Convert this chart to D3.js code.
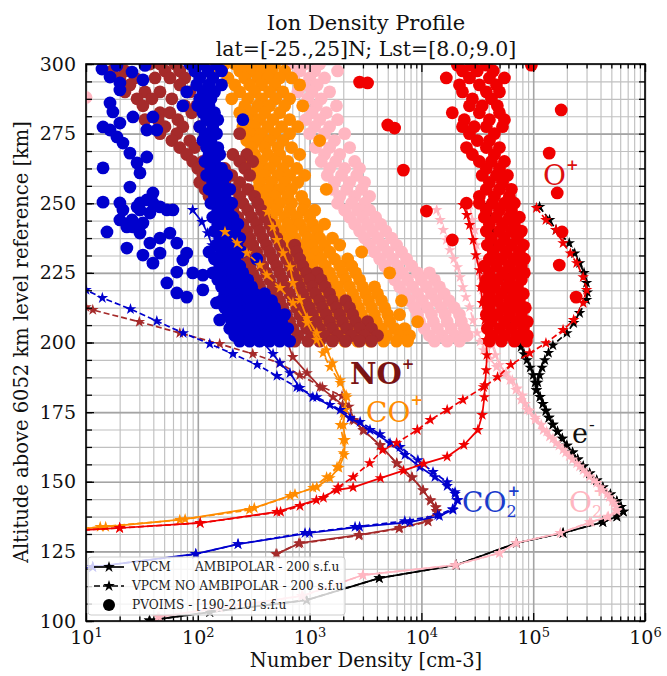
<!DOCTYPE html>
<html><head><meta charset="utf-8">
<script src="https://cdn.jsdelivr.net/npm/d3@7"></script>
<style>body{margin:0;background:#fff}svg text{font-family:'DejaVu Serif',serif}</style>
</head><body><svg id="c" width="667" height="676"></svg>
<script>
// ---------- axis / tick data ----------
const xMajorTicks = [10, 100, 1000, 10000, 100000, 1000000];
const yMajorTicks = [100, 125, 150, 175, 200, 225, 250, 275, 300];
const titleLines = ["Ion Density Profile", "lat=[-25.,25]N; Lst=[8.0;9.0]"];
const xLabel = "Number Density [cm-3]";
const yLabel = "Altitude above 6052 km level reference [km]";
const legendLabels = ["VPCM", "AMBIPOLAR - 200 s.f.u", "VPCM NO AMBIPOLAR - 200 s.f.u", "PVOIMS - [190-210] s.f.u"];

// ---------- VPCM model profiles: [altitude km, density cm-3] ----------
const co2Amb = [[247.6,90],[243.3,109],[239.3,122],[235,134],[230.7,149],[226.7,168],[222.4,194],[217.8,224],[212.7,275],[207,339],[200,383],[195.9,471],[192.6,543],[189,668],[183.7,820],[180.4,1070],[177.6,1520],[172.9,2300],[168.6,3470],[163.9,5240],[159.6,7130],[155.3,9700],[151.7,13200],[148.5,17000],[145.6,20000],[143.4,21200],[139.9,19200],[137.7,14500],[135.5,7900],[133.8,2800],[131.6,1000],[127.6,229],[124.1,96],[119.4,11.5],[118,7]];
const co2NoAmb = [[224,7],[218.9,10],[216,14],[212,25],[207.7,43],[203.4,74],[199.5,128],[195.9,206],[192,340],[188,510],[184,770],[180.4,1160],[175.8,1880],[171.5,2830],[167.1,4260],[162.5,6430],[157.8,9300],[153.5,12700],[149.9,17000],[146.3,20000],[143.4,20800],[140.2,19000],[138,14000],[135.9,7100],[133.8,2550],[131.6,910],[127.6,229],[124,96],[119.4,11.5],[118,7]];
const noAmb = [[248.3,206],[242.2,238],[235,275],[227.8,310],[221.4,360],[217,380],[212.7,425],[208,510],[200.9,622],[194.8,708],[189,950],[184,1240],[180.4,1620],[177.6,1970],[172.2,2430],[168.6,3000],[163.2,4260],[156.7,6000],[151.7,8200],[147,10300],[143.4,12000],[140.9,13400],[139.5,13600],[135.9,11400],[133.4,6400],[130.9,2800],[128,820],[124.1,510]];
const noNoAmb = [[216,6],[212.7,10],[211.7,11.5],[207.4,30],[203.4,69],[199.5,157],[195.9,310],[192.6,540],[188.3,815],[184,1300],[180.8,1950],[177,2250],[172,2500],[168.3,3050],[163,4300],[156.5,6050],[151.5,8300],[146.8,10400],[143.2,12100],[140.7,13500],[139.3,13700],[135.7,11500],[133.2,6300],[130.7,2750],[127.8,800],[124,500]];
const coAmb = [[246.9,420],[241.5,470],[236.8,510],[232.1,580],[227.1,670],[221.4,710],[215.3,820],[208.8,950],[203.4,1160],[197.3,1420],[192.6,1610],[186.5,1880],[181.1,2120],[175.8,2080],[170.4,2000],[165,2080],[159.6,2040],[155,1830],[151.3,1520],[148.1,1160],[145.6,740],[140.6,320],[136.6,77],[133.8,15],[133,8]];
const coNoAmb = [[239.7,175],[235.7,225],[232.1,275],[227.8,360],[224.2,415],[219.6,545],[214.2,710],[207,950],[200.9,1160],[196.2,1320],[191.2,1520],[185.5,1880],[180.4,2160],[174.7,1990],[170.4,1880],[165,2000],[160.3,2000],[155.3,1760],[151.7,1420],[147.8,1070],[144.9,670],[139.9,290],[136.3,69],[133.8,13.4],[133,8]];
const oAmb = [[249.4,23500],[245.8,25500],[242.2,27000],[236.8,29000],[231.4,30700],[226,33000],[219.9,34000],[214.2,35000],[208.1,37000],[200.9,38000],[195.5,38500],[190.1,38000],[184.7,37000],[180.4,36600],[174,35000],[168.6,32000],[163.2,24000],[159,17000],[156.5,10500],[154,6900],[151.3,4300],[148,2450],[147,1750],[143.4,1150],[139.2,510],[135.2,105],[133.4,20],[132.5,8]];
const oNoAmb = [[248.3,107000],[244,130000],[240.4,160000],[235.7,185000],[232,215000],[228.5,245000],[223.5,280000],[218.9,300000],[214.2,280000],[208.1,230000],[204.5,185000],[199.8,130000],[196.2,93000],[192,63000],[187.6,48000],[184,36000],[179.4,23500],[175.8,17000],[172.2,12000],[168.6,9200],[163.9,6000],[161.4,4500],[156.7,3450],[151.7,2450],[148,1800],[144.2,1330],[141.3,820],[139.2,550],[135.2,105],[133.4,20],[132.5,8]];
const o2Amb = [[249.4,27000],[244,28500],[240.4,30000],[235,31000],[229.6,32000],[224,33500],[218.9,35000],[213.5,36500],[208.1,38500],[203.5,40500],[199,43000],[195.5,46000],[192,50000],[189,57000],[186.5,65000],[183.5,72000],[181,80000],[178,85000],[175.5,93000],[173,105000],[170.5,118000],[168,132000],[165.5,150000],[163,170000],[160.5,195000],[158,225000],[155.5,260000],[153,300000],[150.5,350000],[148,400000],[145.5,460000],[143,510000],[141,550000],[139.5,560000],[137.5,470000],[135.5,330000],[131.6,175000],[128,70000],[124.4,50000],[120.1,20000],[116.5,3000],[109,850],[104.7,155],[101.5,44]];
const o2NoAmb = [[247.6,13700],[244,14700],[240.4,15700],[236.8,16700],[233.2,18000],[230,19500],[227.1,21000],[223.5,22200],[219.9,23500],[216.3,25000],[212.7,27000],[208,29000],[203.4,31500],[200.3,33500],[197.3,36000],[194.2,41000],[191.2,47000],[188.8,54000],[186.5,62000],[183,70000],[179.4,78000],[175.8,88000],[172.2,104000],[168.6,123000],[166.2,140000],[163.9,160000],[161.5,185000],[159.1,210000],[156.6,245000],[154.2,280000],[151.9,320000],[149.6,370000],[147,420000],[144.5,480000],[142.2,530000],[139.9,560000],[137.3,460000],[135.5,320000],[131.6,175000],[128,71000],[124.4,50000],[120.1,20500],[116.5,3000],[109,870],[104.7,157],[101.5,45]];
const eShared = [[180.5,115000],[178,122000],[175.5,130000],[173,138000],[170.5,150000],[168,165000],[165.5,182000],[163,200000],[160.5,225000],[158,250000],[155.5,280000],[153,320000],[150.5,370000],[148,420000],[145.5,490000],[143,560000],[141,610000],[139.3,640000],[137.5,560000],[135.5,420000],[131.6,185000],[128,71000],[120.1,20500],[115.4,4200],[107.5,940],[103.2,128],[100.2,37]];
const eAmbTop = [[249.4,39000],[245.8,41000],[240.4,43000],[235,46000],[229.6,50000],[224.2,54000],[218.9,57000],[213.5,60000],[208.1,66000],[202.7,71000],[198.4,78000],[195.8,83000],[193.7,88000],[191,94000],[188.3,100000],[185.6,104000],[182.9,107000]];
const eNoAmbTop = [[248.7,114000],[244,140000],[240.4,160000],[235.7,210000],[232,235000],[228.5,260000],[225,285000],[221.4,300000],[218,305000],[215.3,300000],[210.6,260000],[207,230000],[203.4,200000],[199,150000],[196.3,137000],[193.7,127000],[191,120000],[188.3,114000],[185.6,110000],[182.9,107000]];

// ---------- PVOIMS observations: [altitude km, [densities cm-3]] ----------
const obsO2 = [[300,[663,903,1230]],[297.5,[815,1110,1780]],[295,[708,1000,1360]],[292.5,[903,1170]],[290,[784,1050,1510]],[288,[10]],[287.5,[963,1270]],[285,[869,1150,1740]],[282.5,[1050,1410]],[280,[922,1230,1780]],[277.5,[1110,1510]],[275,[1000,1360,2060]],[272.5,[1230,1670]],[270,[1130,1510,2280]],[267.5,[1360,1860]],[265,[1270,1710,2530]],[262.5,[1510,2060,2800]],[260,[1440,1930,2640]],[257.5,[1670,2280,3100]],[255,[1600,2150,2920]],[252.5,[1860,2530,3440]],[250,[1780,2380,3100]],[247.5,[2060,2690,3440]],[245,[2280,2980,3890]],[242.5,[2530,3300,4310]],[240,[2800,3650,4790]],[237.5,[3100,4050,5410]],[235,[3440,4500,5990]],[232.5,[3810,4990,6640]],[230,[4230,5520,7360]],[227.5,[4690,6120,8170]],[225,[5200,6780,9240,11800]],[222.5,[5760,7520,10000,13100]],[220,[6380,8340,11100,14500]],[217.5,[7080,9240,12300,16000]],[215,[7840,10200,13600,17700]],[212.5,[8690,11300,15100,19700]],[210,[9240,12300,16300,21900]],[207.5,[9630,12800,17000,22800]],[205,[10600,13900,18500,24200]],[202.5,[11800,15400,20000,25700]],[200.5,[13100,17000,21900]]];
const obsCO = [[300,[141,174,214,263,322,396,488]],[297.5,[126,163,237,303,372,457,598]],[295,[186,263,344,423,540,690]],[292.5,[214,291,372,488,815]],[290,[237,322,439,576]],[287.5,[201,280,372,498,663]],[285,[263,344,439,598,869]],[282.5,[237,303,396,540]],[280,[280,357,469,663]],[277.5,[253,322,423,562,784]],[275,[291,372,488,663]],[272.5,[274,344,439,576,1230]],[270,[303,396,520,690]],[267.5,[322,423,540,815]],[265,[291,372,488,638]],[262.5,[344,439,576,766]],[260,[322,396,520,663,903]],[257.5,[357,457,598,784]],[255,[344,423,540,690,1410]],[252.5,[381,488,638,848]],[250,[423,540,690,903]],[247.5,[396,508,663,869,1110]],[245,[457,598,766,1000]],[242.5,[488,638,815,1060,1360]],[240,[540,690,903,1170]],[237.5,[576,736,963,1230,1600]],[235,[638,815,1050,1360,1860]],[232.5,[690,903,1170,1510,2920]],[230,[766,1000,1270,1670,2190]],[227.5,[815,1060,1380,1860,2380]],[225,[903,1170,1510,1970,2580,5200]],[222.5,[963,1230,1600,2100,2800]],[220,[1050,1360,1780,2280,2980,3810]],[217.5,[1110,1440,1860,2430,3170,4050]],[215,[1170,1510,1970,2580,3370,4400,6640]],[212.5,[1230,1600,2100,2750,3580,4690]],[210,[1300,1710,2240,2920,3810,4990,6380]],[207.5,[1360,1780,2330,3040,3970,5200,9240]],[205,[1510,1970,2580,3370,4400,5760,7080]],[202.5,[1670,2190,2860,3730,4880,6380,7840]],[200.5,[2060,2690,3510,4590,5990,7520]]];
const obsNO = [[300,[37.3,45.9,62.4]],[297.5,[17.1,22.3,50.9,69]],[295,[20.1,27.4,41.4,56.3,76.5]],[292.5,[24.7,69]],[290,[22.3,33.7,45.9,84.8]],[287.5,[28.6,38.9,58.6]],[285,[32.3,76.5,97.7]],[282.5,[45.9,56.3,88.3]],[280,[33.7,44,66.3]],[277.5,[50.9,73.5,104]],[275,[45.9,64.9,237]],[272.5,[58.6,84.8]],[270,[69,93.8,136]],[267.5,[79.6,206,274]],[265,[90.1,111,237,310]],[262.5,[100,126,174,263]],[260,[111,141,201,291]],[257.5,[104,131,174,237]],[255,[116,157,214,280]],[252.5,[126,174,237,322]],[250,[141,186,253,344]],[247.5,[157,206,280,372]],[245,[174,228,303,396]],[242.5,[193,253,336,439]],[240,[206,274,357,469]],[237.5,[223,291,381,508]],[235,[237,310,412,540,736]],[232.5,[253,336,439,576,766]],[230,[274,357,469,622,815]],[227.5,[291,381,508,663,869]],[225,[310,412,540,708,940,1170]],[222.5,[336,439,576,766,1000,1270]],[220,[357,469,622,815,1060,1380]],[217.5,[381,508,663,869,1130,1510]],[215,[412,540,708,922,1230,1600,2100]],[212.5,[439,576,766,1000,1300,1740,2280]],[210,[469,622,815,1060,1410,1860,2430]],[207.5,[508,663,869,1150,1510,1970,2580,3300]],[205,[540,708,940,1230,1600,2150,2800,3580]],[202.5,[598,784,1050,1360,1780,2380,3100,4050]],[200.5,[736,963,1230,1600,2100,2800,3580]]];
const obsCO2 = [[300,[84.8,111,147]],[297.5,[93.8,123,163]],[295,[104,136]],[292.5,[97.7,126,163]],[290,[79.6,111,141]],[287.5,[104,131]],[285,[73.5,100,126]],[282.5,[111,141]],[280,[120,151,253]],[277.5,[104,136]],[275,[116,147]],[272.5,[111,131]],[270,[120,151]],[267.5,[126,157]],[265,[116,141]],[262.5,[131,163]],[260,[120,147,181]],[257.5,[136,167]],[255,[126,157,193]],[252.5,[141,174]],[250,[131,163,201]],[247.5,[151,186]],[245,[136,167,206]],[242.5,[151,186,228]],[240,[141,174,214]],[237.5,[157,193,237]],[235,[147,181,223]],[232.5,[126,163,201,247]],[230,[141,174,214,336]],[227.5,[157,193,237]],[225,[136,167,206,253]],[222.5,[151,186,228,280]],[220,[163,201,247,303]],[217.5,[174,214,263,322,396]],[215,[163,201,247,303,372,457]],[212.5,[174,214,263,322,396,488]],[210,[186,228,280,344,423,520,598]],[207.5,[201,247,303,372,457,562]],[205,[193,237,291,357,439,540,638]],[202.5,[214,263,322,396,488,598]],[200.5,[237,291,357,439,540,663]],
  [299.5,[18.9,33.7]],[298.2,[13.9]],[297.1,[25.8]],[295.3,[16.4]],[294.3,[32.3]],[293.2,[20.1]],[290.7,[20.1]],[286,[16.4]],[282.8,[17.4]],[281,[26.3,39.7]],[278.8,[20.1]],[277.4,[14.2]],[276.3,[16.4,35,43]],[273.8,[18.9]],[271.6,[21.4]],[268,[24.7]],[266.6,[35]],[264.5,[28.6]],[262.7,[14.2]],[260.9,[30.4]],[255.8,[24.7]],[253.7,[39.7]],[251.2,[35]],[250.4,[14.2]],[250.1,[20.1,30.4,39.7]],[248.7,[28.6,45.9]],[247.6,[21.4,30.4,52.9,59.9]],[246.5,[37.3]],[244,[20.1,25.8]],[242.9,[32.3]],[241.5,[23.2,26.3]],[239.7,[15.4]],[239.3,[30.4,56.3]],[237.5,[45.9]],[235.7,[37.3,64.9]],[233.9,[23.2]],[232.1,[45.9,79.6]],[231.4,[32.3]],[229.6,[73.5]],[228.5,[39.7]],[225.3,[64.9]],[225,[90.1]],[224.2,[111]],[221.4,[52.9]],[218.9,[111]],[217.8,[64.9]],[216.3,[79.6]],[214.2,[147]],[208.1,[157]]];
const obsO = [[299.6,[21000,28000,38100,96300]],[297.5,[23300,31600,44000]],[295,[16700,26900,40600,55300]],[293.5,[2800]],[293.2,[3300]],[292.5,[21900,33000,46900]],[290,[23300,38100,49900]],[287.5,[28600,42300]],[285,[26900,35000,47800]],[283.5,[178000]],[282.5,[18900,33000,49900]],[280,[24200,40600,55300]],[278.1,[5000]],[277.5,[23300,29700,38100,53100]],[277,[5760]],[275,[26900,45000]],[272.5,[31600,40600]],[270,[25300,38100,49900]],[268,[139000]],[267.5,[28600,45000]],[265,[33000,42300,55300]],[262.5,[38100,49900]],[261.9,[6900]],[260,[35000,46900,58800]],[257.5,[40600,53100]],[255,[38100,49900,63800]],[253.7,[164000]],[252.5,[33000,45000,61200]],[250,[25300,33000,43200,55300,67800]],[247.5,[38100,49900,63800]],[247.2,[11100]],[245,[36600,46900,61200,75200]],[242.5,[40600,53100,67800]],[240,[38100,49900,63800,78400]],[239.7,[181000]],[237.5,[42300,55300,72200]],[236.8,[18900]],[235,[38900,49900,63800,81700]],[232.5,[44000,57600,75200]],[230,[40600,52000,66500,83300]],[227.8,[171000]],[227.5,[36600,46900,61200,78400]],[225,[40600,53100,67800,83300]],[222.5,[38100,47800,61200,78400]],[220,[36600,45000,57600,72200]],[217.5,[40600,52000,66500,81700]],[216.3,[242000]],[215,[38100,47800,61200,75200]],[212.5,[40600,53100,67800,85000]],[210,[38100,47800,61200,78400]],[207.5,[42300,55300,70800,88600]],[205,[38900,49900,63800,81700]],[202.5,[43200,55300,70800,88600]],[200.5,[40600,52000,67800,86900]]];

// ---------- drawing ----------
const X0 = 86, X1 = 645, Y0 = 64, Y1 = 621;
const C = {co2:'#0000cd', no:'#a52a2a', co:'#ff8c00', o:'#f00000', o2:'#ffb6c1', e:'#000000'};
const svg = d3.select('#c');
const x = d3.scaleLog().domain([10, 1e6]).range([X0, X1]);
const y = d3.scaleLinear().domain([100, 300]).range([Y1, Y0]);

svg.append('rect').attr('width',667).attr('height',676).attr('fill','#fff');
svg.append('defs').append('clipPath').attr('id','clip').append('rect')
  .attr('x',X0).attr('y',Y0).attr('width',X1-X0).attr('height',Y1-Y0);

const xMinor = [];
xMajorTicks.slice(0,-1).forEach(d => { for (let m = 2; m < 10; m++) xMinor.push(d*m); });
const yMinor = d3.range(100, 300.001, 6.25);

// grid
function gridAxis(axis, tr, color, w) {
  svg.append('g').attr('transform', tr).call(axis)
    .call(g => { g.select('.domain').remove(); g.selectAll('line').attr('stroke', color).attr('stroke-width', w); g.selectAll('text').remove(); });
}
gridAxis(d3.axisBottom(x).tickValues(xMinor).tickSize(-(Y1-Y0)), `translate(0,${Y1})`, '#c0c0c0', 1.15);
gridAxis(d3.axisLeft(y).tickValues(yMinor).tickSize(-(X1-X0)), `translate(${X0},0)`, '#c0c0c0', 1.15);
gridAxis(d3.axisBottom(x).tickValues(xMajorTicks).tickSize(-(Y1-Y0)), `translate(0,${Y1})`, '#a4a4a4', 1.6);
gridAxis(d3.axisLeft(y).tickValues(yMajorTicks).tickSize(-(X1-X0)), `translate(${X0},0)`, '#a4a4a4', 1.6);

const plot = svg.append('g').attr('clip-path','url(#clip)');
const flat = rows => rows.flatMap(([a, vs]) => vs.map(v => [a, v]));
function dots(rows, color) {
  plot.append('g').selectAll('circle').data(flat(rows)).join('circle')
    .attr('cx', d => x(d[1])).attr('cy', d => y(d[0])).attr('r', 6.4).attr('fill', color);
}
const line = d3.line().x(d => x(d[1])).y(d => y(d[0]));
const star = d3.symbol(d3.symbolStar, 42);
function curve(data, color, dashed) {
  const g = plot.append('g');
  g.append('path').datum(data).attr('d', line).attr('fill','none').attr('stroke', color)
    .attr('stroke-width', 1.7).attr('stroke-dasharray', dashed ? '6,3' : null);
  g.selectAll('path.m').data(data).join('path').attr('class','m')
    .attr('transform', d => `translate(${x(d[1])},${y(d[0])})`).attr('d', star).attr('fill', color);
}

dots(obsO2, C.o2);
dots(obsCO, C.co);
curve(noAmb, C.no, false);
curve(noNoAmb, C.no, true);
dots(obsNO, C.no);
dots(obsCO2, C.co2);
curve(coAmb, C.co, false);
curve(coNoAmb, C.co, true);
curve(co2Amb, C.co2, false);
curve(co2NoAmb, C.co2, true);
curve(eAmbTop.concat(eShared), C.e, false);
curve(eNoAmbTop.concat(eShared), C.e, true);
curve(o2Amb, C.o2, false);
curve(o2NoAmb, C.o2, true);
curve(oAmb, C.o, false);
curve(oNoAmb, C.o, true);
dots(obsO, C.o);

// frame + ticks (inward on all sides)
function tickAxis(axis, tr, labels) {
  const g = svg.append('g').attr('transform', tr).call(axis);
  g.select('.domain').remove();
  g.selectAll('line').attr('stroke','#000').attr('stroke-width',1.3);
  if (!labels) g.selectAll('text').remove();
  return g;
}
tickAxis(d3.axisBottom(x).tickValues(xMinor).tickSize(-4.5), `translate(0,${Y1})`);
tickAxis(d3.axisTop(x).tickValues(xMinor).tickSize(-4.5), `translate(0,${Y0})`);
tickAxis(d3.axisTop(x).tickValues(xMajorTicks).tickSize(-8), `translate(0,${Y0})`);
tickAxis(d3.axisLeft(y).tickValues(yMinor).tickSize(-6), `translate(${X0},0)`);
tickAxis(d3.axisRight(y).tickValues(yMinor).tickSize(-6), `translate(${X1},0)`);
const xb = tickAxis(d3.axisBottom(x).tickValues(xMajorTicks).tickSize(-8).tickPadding(10).tickFormat(() => '10'), `translate(0,${Y1})`, true);
xb.selectAll('text').attr('font-family','DejaVu Serif').attr('font-size',19).attr('fill','#111')
  .each(function(d) { d3.select(this).append('tspan').attr('dy','-0.6em').attr('font-size',13).text(Math.round(Math.log10(d))); });
const yl = tickAxis(d3.axisLeft(y).tickValues(yMajorTicks).tickSize(-8).tickPadding(10), `translate(${X0},0)`, true);
yl.selectAll('text').attr('font-family','DejaVu Serif').attr('font-size',19).attr('fill','#111');
svg.append('rect').attr('x',X0).attr('y',Y0).attr('width',X1-X0).attr('height',Y1-Y0)
  .attr('fill','none').attr('stroke','#000').attr('stroke-width',1.6);

// titles
svg.append('text').attr('x',366).attr('y',30).attr('text-anchor','middle').attr('font-size',21).attr('fill','#111').text(titleLines[0]);
svg.append('text').attr('x',366).attr('y',56).attr('text-anchor','middle').attr('font-size',20.5).attr('fill','#111').text(titleLines[1]);
svg.append('text').attr('x',366).attr('y',667).attr('text-anchor','middle').attr('font-size',19.5).attr('fill','#111').text(xLabel);
svg.append('text').attr('transform','translate(28,342) rotate(-90)').attr('text-anchor','middle').attr('font-size',19.5).attr('fill','#111').text(yLabel);

// species labels (one text element each, sub/superscripts as tspans)
const L = svg.append('g').attr('font-family','Liberation Serif');
function lab(xp, yp, base, color, size, weight, parts) {
  const t = L.append('text').attr('x',xp).attr('y',yp).attr('fill',color).attr('font-size',size).attr('font-weight',weight||'normal');
  t.append('tspan').text(base);
  parts.forEach(p => t.append('tspan').attr('dx',p[1]).attr('dy',p[2]).attr('font-size',p[3]).attr('font-weight',p[4]||null).text(p[0]));
}
lab(350, 384, 'NO', '#7a1414', 29, 'bold', [['+', 0, -15, 15]]);
lab(366, 422, 'CO', C.co, 28, 'normal', [['+', 0, -17, 15, 'bold']]);
lab(462, 512, 'CO', '#1b3ccc', 28, 'normal', [['2', 0, 5, 16], ['+', -9, -21, 15, 'bold']]);
lab(569, 512, 'O', C.o2, 28, 'normal', [['2', 0, 5, 16], ['+', -9, -21, 15, 'bold']]);
lab(572, 443, 'e', '#111', 27, 'normal', [['-', 1, -13, 17]]);
lab(543, 185, 'O', '#dd1010', 28, 'normal', [['+', 0, -15, 15, 'bold']]);

// legend
const lg = svg.append('g');
lg.append('rect').attr('x',88).attr('y',557).attr('width',257).attr('height',58).attr('rx',3)
  .attr('fill','#fff').attr('fill-opacity',0.8).attr('stroke','#cccccc');
const rows = [567, 586, 605];
lg.append('line').attr('x1',94).attr('x2',124).attr('y1',rows[0]).attr('y2',rows[0]).attr('stroke','#000').attr('stroke-width',1.7);
lg.append('line').attr('x1',94).attr('x2',124).attr('y1',rows[1]).attr('y2',rows[1]).attr('stroke','#000').attr('stroke-width',1.7).attr('stroke-dasharray','6,3');
lg.append('path').attr('transform',`translate(109,${rows[0]})`).attr('d',star).attr('fill','#000');
lg.append('path').attr('transform',`translate(109,${rows[1]})`).attr('d',star).attr('fill','#000');
lg.append('circle').attr('cx',109).attr('cy',rows[2]).attr('r',6).attr('fill','#000');
const lt = (xp, yp, t) => lg.append('text').attr('x',xp).attr('y',yp+4.3).attr('font-size',12.2).attr('fill','#222').text(t);
lt(132, rows[0], legendLabels[0]); lt(195, rows[0], legendLabels[1]);
lt(132, rows[1], legendLabels[2]); lt(132, rows[2], legendLabels[3]);
</script></body></html>
